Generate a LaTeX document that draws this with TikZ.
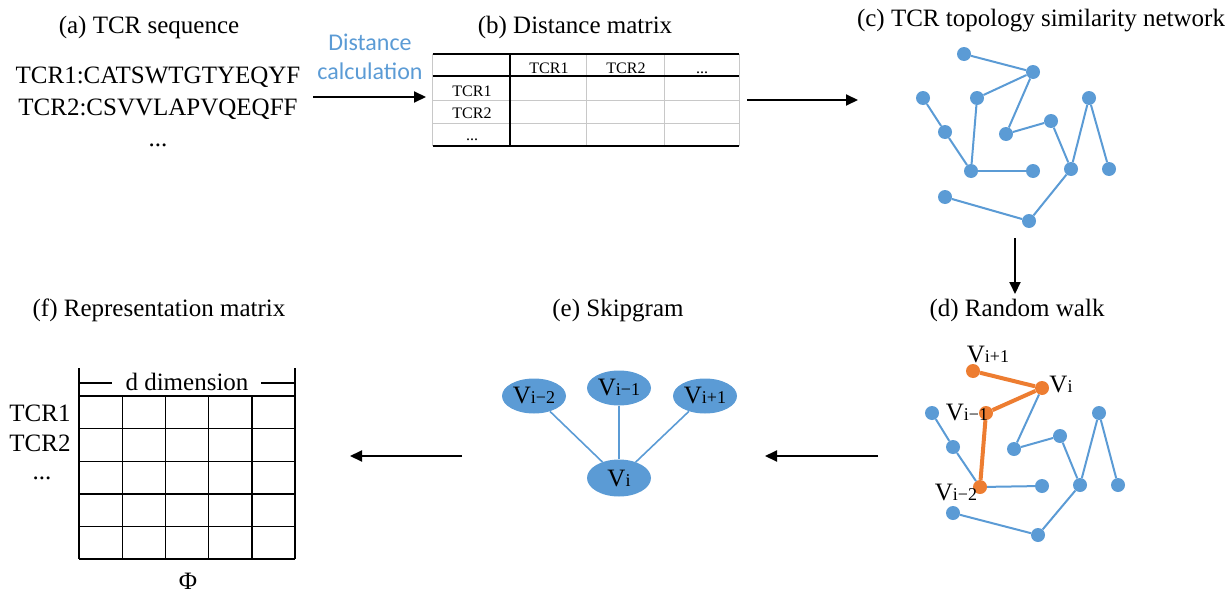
\documentclass[tikz,border=0pt]{standalone}
\usepackage{fontspec}
\setmainfont{Liberation Serif}
\newfontfamily\calibfont{Carlito}
\usetikzlibrary{arrows.meta,shapes.geometric}
\definecolor{netblue}{HTML}{5B9BD5}
\definecolor{walkorange}{HTML}{ED7D31}
\definecolor{gridgrey}{HTML}{C8C8C8}
\newcommand\pxfont[1]{\fontsize{#1}{#1}\selectfont}
\newcommand\calcfont{\calibfont\fontsize{24}{29}\selectfont}
\newcommand\vlab[1]{V{\pxfont{18}#1}}
\begin{document}
\begin{tikzpicture}[x=1pt,y=-1pt,
  txt/.style={inner sep=0pt, anchor=base, font=\pxfont{25}},
  small/.style={inner sep=0pt, anchor=base, font=\pxfont{16}},
  flow/.style={line width=2pt, -{Triangle[length=12pt,width=11pt]}},
  dot/.style={circle, fill=netblue, inner sep=0pt, minimum size=14pt},
  hot/.style={circle, fill=walkorange, inner sep=0pt, minimum size=14pt},
  link/.style={netblue, line width=2pt},
  walk/.style={walkorange, line width=4pt},
  word/.style={ellipse, fill=netblue, inner sep=0pt, minimum width=64pt, minimum height=35pt, font=\pxfont{25}},
  ctx/.style={netblue, line width=1.6pt},
  thinrule/.style={gridgrey, line width=1pt},
  boldrule/.style={black, line width=2pt},
  cell/.style={black, line width=1.4pt},
]
\useasboundingbox (0,0) rectangle (1232,597);

% ---------- (a) TCR sequences ----------
\node[txt] (capA) at (149,33) {(a) TCR sequence};
\node[txt] (seq1) at (158,83) {TCR1:CATSWTGTYEQYF};
\node[txt] (seq2) at (158,115) {TCR2:CSVVLAPVQEQFF};
\node[txt] (seq3) at (158,146) {...};
\node[align=center, inner sep=0pt, text=netblue, font=\calcfont] (calc) at (370,57) {Distance\\calculation};

% ---------- (b) distance matrix ----------
\node[txt] (capB) at (575,33) {(b) Distance matrix};
\draw[thinrule] (432.7,54) -- (432.7,146);
\draw[thinrule] (739.3,54) -- (739.3,146);
\draw[thinrule] (586.7,54) -- (586.7,146);
\draw[thinrule] (664,54) -- (664,146);
\draw[thinrule] (432.7,100.7) -- (739.3,100.7);
\draw[thinrule] (432.7,123.3) -- (739.3,123.3);
\draw[boldrule] (432.7,54) -- (739.3,54);
\draw[boldrule] (432.7,146) -- (739.3,146);
\draw[black, line width=1.6pt] (432.7,76) -- (739.3,76);
\draw[boldrule] (510,54) -- (510,146);
\node[small] (hd1) at (549,73) {TCR1};
\node[small] (hd2) at (626,73) {TCR2};
\node[small] (hd3) at (702,73) {...};
\node[small] (rw1) at (472,96) {TCR1};
\node[small] (rw2) at (472,118.5) {TCR2};
\node[small] (rw3) at (472,140) {...};

% ---------- (c) similarity network ----------
\node[txt] (capC) at (1041,26) {(c) TCR topology similarity network};
\foreach \n/\x/\y in {a/964/54, b/1033/72, c/923/98, d/977/98, e/1089/98,
                      f/1051/121, g/945/132, h/1006/134, i/971/171, j/1033/171,
                      k/1071/169, l/1109/169, m/945/197, n/1029/221}
  \node[dot] (c\n) at (\x,\y) {};
\foreach \s/\t in {a/b, b/d, b/h, h/f, f/k, k/e, e/l, c/g, g/i, d/i, i/j, k/n, n/m}
  \draw[link] (c\s) -- (c\t);

% ---------- (d) random walk ----------
\node[txt] (capD) at (1017,316) {(d) Random walk};
\foreach \n/\x/\y in {c/932/413, e/1099/413, f/1060/436, g/953/447, h/1014/449,
                      j/1042/486, k/1080/485, l/1118/485, m/953/513, n/1038/535}
  \node[dot] (d\n) at (\x,\y) {};
\foreach \n/\x/\y in {a/973/371, b/1042/388, d/986/413, i/980/487}
  \node[hot] (d\n) at (\x,\y) {};
\foreach \s/\t in {b/h, h/f, f/k, k/e, e/l, c/g, g/i, i/j, k/n, n/m}
  \draw[link] (d\s) -- (d\t);
\foreach \s/\t in {a/b, b/d, d/i}
  \draw[walk] (d\s) -- (d\t);
\node[txt] (wl1) at (988,362) {\vlab{i+1}};
\node[txt] (wl2) at (1061,392) {\vlab{i}};
\node[txt] (wl3) at (967,420) {\vlab{i−1}};
\node[txt] (wl4) at (956,500) {\vlab{i−2}};

% ---------- (e) skip-gram ----------
\node[txt] (capE) at (618,316) {(e) Skipgram};
\node[word] (sm2) at (534,396) {\vlab{i−2}};
\node[word] (sm1) at (619,388) {\vlab{i−1}};
\node[word] (sp1) at (705,396) {\vlab{i+1}};
\node[word, minimum height=37pt] (s0) at (619,478) {\vlab{i}};
\draw[ctx] (sm2) -- (s0);
\draw[ctx] (sm1) -- (s0);
\draw[ctx] (sp1) -- (s0);

% ---------- (f) representation matrix ----------
\node[txt] (capF) at (159,316) {(f) Representation matrix};
\foreach \i in {0,...,5}
  \draw[cell] ({79+43.2*\i},396) -- ({79+43.2*\i},559);
\foreach \j in {1,...,5}
  \draw[cell] (79,{396+32.6*\j}) -- (295,{396+32.6*\j});
\draw[black, line width=2.4pt] (79,396) -- (295,396);
\draw[cell] (79,368) -- (79,396);
\draw[cell] (295,368) -- (295,396);
\draw[cell] (79,383) -- (112,383);
\draw[cell] (261,383) -- (295,383);
\node[txt] (dim) at (187,390) {d dimension};
\node[txt] (fr1) at (40,421.5) {TCR1};
\node[txt] (fr2) at (40,451.5) {TCR2};
\node[txt] (fr3) at (42,479) {...};
\node[txt] (phi) at (188,589) {Φ};

% ---------- flow arrows ----------
\coordinate (ab0) at (313,97);  \coordinate (ab1) at (426,97);
\coordinate (bc0) at (747,100); \coordinate (bc1) at (858,100);
\coordinate (cd0) at (1015,238); \coordinate (cd1) at (1015,294);
\coordinate (de0) at (878,456); \coordinate (de1) at (765,456);
\coordinate (ef0) at (462,456); \coordinate (ef1) at (350,456);
\draw[flow] (ab0) -- (ab1);
\draw[flow] (bc0) -- (bc1);
\draw[flow] (cd0) -- (cd1);
\draw[flow] (de0) -- (de1);
\draw[flow] (ef0) -- (ef1);
\end{tikzpicture}
\end{document}
